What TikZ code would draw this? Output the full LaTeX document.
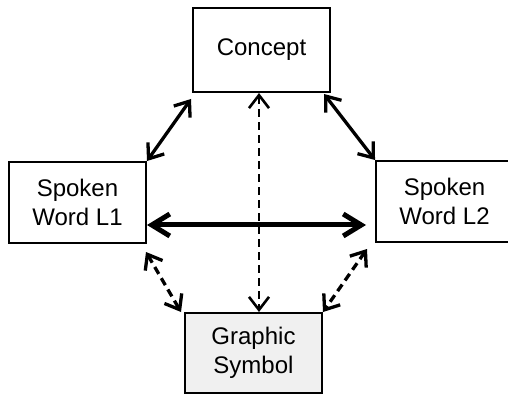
\documentclass[tikz,border=0pt]{standalone}
\usepackage{fontspec}
\setmainfont{Liberation Sans}
\usetikzlibrary{arrows.meta,calc}
\definecolor{symbolfill}{RGB}{240,240,240}
\tikzset{
  box/.style={draw=black, line width=2pt, minimum width=137pt, align=center,
    font=\fontsize{24}{29}\selectfont, inner sep=0pt},
  link/.style={line width=3.3pt, {Straight Barb[length=13pt,width=20pt]}-{Straight Barb[length=13pt,width=20pt]}},
  mainlink/.style={line width=5pt, {Straight Barb[length=18pt,width=22pt]}-{Straight Barb[length=18pt,width=22pt]}},
  dashlink/.style={link, dash pattern=on 8pt off 5pt},
}
\begin{document}
\begin{tikzpicture}[x=1pt,y=-1pt]
  \useasboundingbox (0,0) rectangle (508,395);
  \clip (0,0) rectangle (508,395);

  % the four boxes
  \node[box, minimum height=84pt] (concept) at (261.5,50) {Concept};
  \node[box, minimum height=81pt] (wordA) at (77.5,202.5) {Spoken\\Word L1};
  \node[box, minimum height=81pt] (wordB) at (444.5,201.5) {Spoken\\Word L2};
  \node[box, minimum height=80pt, fill=symbolfill] (symbol) at (253.5,353) {Graphic\\Symbol};

  % column of the vertical link and row of the horizontal link
  \coordinate (vx) at (259,0);
  \coordinate (hy) at (0,225);

  % solid links to the concept
  \draw[link] ($(concept.south west)+(-1,6)$) -- (wordA.north east);
  \draw[link] ($(concept.south east)+(-7,1)$) -- (wordB.north west);

  % thick link between the two spoken words
  \draw[mainlink] (wordA.east |- hy) -- ($(wordB.west |- hy)+(-9,0)$);

  % dashed links to the graphic symbol
  \draw[dashlink, line width=2.6pt] (concept.south -| vx) -- (symbol.north -| vx);
  \draw[dashlink] ($(wordA.south east)+(-1,8)$) -- ($(symbol.north west)+(-3,0)$);
  \draw[dashlink] ($(wordB.south west)+(-8,6)$) -- (symbol.north east);
\end{tikzpicture}
\end{document}
